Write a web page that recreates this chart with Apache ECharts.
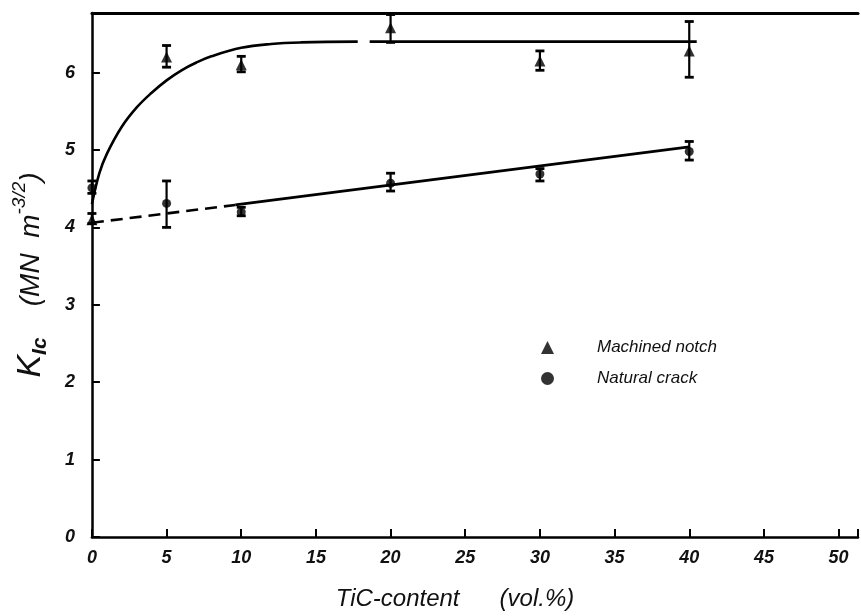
<!DOCTYPE html>
<html>
<head>
<meta charset="utf-8">
<script src="https://cdn.jsdelivr.net/npm/echarts@6/dist/echarts.min.js"></script>
<style>html,body{margin:0;padding:0;background:#fff;}#c{width:861px;height:616px;}</style>
</head>
<body>
<div id="c"></div>
<script>
// ---- data ----
const xTicks = [0, 5, 10, 15, 20, 25, 30, 35, 40, 45, 50];
const yTicks = [0, 1, 2, 3, 4, 5, 6];

// Machined notch (triangles): x, value, error low, error high
const notchX    = [0, 5, 10, 20, 30, 40];
const notchY    = [4.1, 6.2, 6.1, 6.58, 6.15, 6.28];
const notchLow  = [4.05, 6.07, 6.01, 6.39, 6.03, 5.94];
const notchHigh = [4.18, 6.35, 6.21, 6.75, 6.28, 6.66];

// Natural crack (circles)
const crackX    = [0, 5, 10, 20, 30, 40];
const crackY    = [4.51, 4.31, 4.2, 4.57, 4.69, 4.98];
const crackLow  = [4.44, 4.0, 4.15, 4.47, 4.6, 4.87];
const crackHigh = [4.6, 4.6, 4.26, 4.7, 4.76, 5.11];

// Fitted curve for machined notch (two pieces, gap near 18 vol.%)
const notchFitX1 = [0, 0.5, 1, 2, 3, 4, 5, 6, 7, 8, 10, 12, 14, 17.8];
const notchFitY1 = [4.3, 4.7, 4.95, 5.3, 5.55, 5.74, 5.9, 6.03, 6.13, 6.21, 6.32, 6.37, 6.39, 6.4];
const notchFitX2 = [18.6, 40.5];
const notchFitY2 = [6.4, 6.4];

// Fitted line for natural crack: dashed part and solid part
const crackDashX = [0, 9.6];
const crackDashY = [4.06, 4.29];
const crackSolidX = [9.6, 40];
const crackSolidY = [4.29, 5.04];

const zip = (a, b) => a.map((v, i) => [v, b[i]]);
const zip3 = (a, b, c) => a.map((v, i) => [v, b[i], c[i]]);

function errItem(params, api) {
  const x = api.value(0), lo = api.value(1), hi = api.value(2);
  const p1 = api.coord([x, lo]), p2 = api.coord([x, hi]);
  const w = 4.5;
  const st = { stroke: '#000', lineWidth: 2.2 };
  return { type: 'group', children: [
    { type: 'line', shape: { x1: p1[0], y1: p1[1], x2: p2[0], y2: p2[1] }, style: st },
    { type: 'line', shape: { x1: p1[0] - w, y1: p1[1], x2: p1[0] + w, y2: p1[1] }, style: { stroke: '#000', lineWidth: 2.8 } },
    { type: 'line', shape: { x1: p2[0] - w, y1: p2[1], x2: p2[0] + w, y2: p2[1] }, style: { stroke: '#000', lineWidth: 2.8 } }
  ]};
}

const font = '"Liberation Sans", "DejaVu Sans", sans-serif';
const chart = echarts.init(document.getElementById('c'), null, { renderer: 'canvas' });
chart.setOption({
  animation: false,
  backgroundColor: '#ffffff',
  grid: { left: 79.5, right: 0, top: 13, bottom: 74, containLabel: false },
  xAxis: [{
    type: 'value', min: 0, max: 51.3, interval: 5,
    axisLine: { show: true, lineStyle: { color: '#000', width: 2.5 } },
    axisTick: { show: true, inside: true, length: 8, lineStyle: { color: '#000', width: 2 } },
    splitLine: { show: false },
    axisLabel: {
      margin: 12, color: '#111', fontFamily: font, fontStyle: 'italic', fontWeight: 'bold', fontSize: 18,
      formatter: v => (xTicks.indexOf(v) >= 0 ? String(v) : '')
    },
    name: 'TiC-content      (vol.%)', nameLocation: 'middle', nameGap: 50,
    nameTextStyle: { color: '#111', fontFamily: font, fontStyle: 'italic', fontSize: 24, padding: [0, 40, 0, 0] }
  }, {
    type: 'value', position: 'top', min: 0, max: 51.3,
    axisLine: { show: true, onZero: false, lineStyle: { color: '#000', width: 3 } },
    axisTick: { show: false }, axisLabel: { show: false }, splitLine: { show: false }
  }],
  yAxis: {
    type: 'value', min: 0, max: 6.77, interval: 1,
    axisLine: { show: true, lineStyle: { color: '#000', width: 2.5 } },
    axisTick: { show: true, inside: true, length: 8, lineStyle: { color: '#000', width: 2 } },
    splitLine: { show: false },
    axisLabel: {
      margin: 17, color: '#111', fontFamily: font, fontStyle: 'italic', fontWeight: 'bold', fontSize: 18,
      formatter: v => (yTicks.indexOf(v) >= 0 ? String(v) : '')
    },
    name: '{k|K}{s|Ic}{t|    (MN  m}{p|-3/2}{t|)}',
    nameLocation: 'middle', nameRotate: 90, nameGap: 22,
    nameTextStyle: {
      color: '#111', fontFamily: font,
      rich: {
        k: { fontSize: 34, fontStyle: 'italic', fontFamily: font, color: '#111', lineHeight: 46, verticalAlign: 'middle' },
        s: { fontSize: 21, fontStyle: 'italic', fontWeight: 'bold', fontFamily: font, color: '#111', lineHeight: 46, verticalAlign: 'bottom', padding: [0, 0, 3, 0] },
        t: { fontSize: 28, fontStyle: 'italic', fontFamily: font, color: '#111', lineHeight: 46, verticalAlign: 'middle' },
        p: { fontSize: 19, fontStyle: 'italic', fontFamily: font, color: '#111', lineHeight: 46, verticalAlign: 'top', padding: [2, 0, 0, 0] }
      }
    }
  },
  legend: {
    orient: 'vertical', left: 536, top: 334, itemGap: 14,
    itemWidth: 13, itemHeight: 13,
    data: [{ name: 'Machined notch', icon: 'triangle' }, { name: 'Natural crack', icon: 'circle' }],
    textStyle: { color: '#111', fontFamily: font, fontStyle: 'italic', fontSize: 17, padding: [0, 0, 0, 38] }
  },
  series: [
    { name: 'fit1', type: 'line', data: zip(notchFitX1, notchFitY1), smooth: 0.4, symbol: 'none',
      lineStyle: { color: '#000', width: 2.6 } },
    { name: 'fit2', type: 'line', data: zip(notchFitX2, notchFitY2), symbol: 'none',
      lineStyle: { color: '#000', width: 2.8 } },
    { name: 'crackDash', type: 'line', data: zip(crackDashX, crackDashY), symbol: 'none',
      lineStyle: { color: '#000', width: 2.6, type: [12, 7] } },
    { name: 'crackSolid', type: 'line', data: zip(crackSolidX, crackSolidY), symbol: 'none',
      lineStyle: { color: '#000', width: 2.8 } },
    { name: 'notchErr', type: 'custom', renderItem: errItem, data: zip3(notchX, notchLow, notchHigh),
      encode: { x: 0, y: [1, 2] }, z: 3 },
    { name: 'crackErr', type: 'custom', renderItem: errItem, data: zip3(crackX, crackLow, crackHigh),
      encode: { x: 0, y: [1, 2] }, z: 3 },
    { name: 'Machined notch', type: 'scatter', symbol: 'triangle', symbolSize: 11,
      data: zip(notchX, notchY), itemStyle: { color: '#000' }, z: 4 },
    { name: 'Natural crack', type: 'scatter', symbol: 'circle', symbolSize: 9,
      data: zip(crackX, crackY), itemStyle: { color: '#000' }, z: 4 }
  ]
});
</script>
</body>
</html>
